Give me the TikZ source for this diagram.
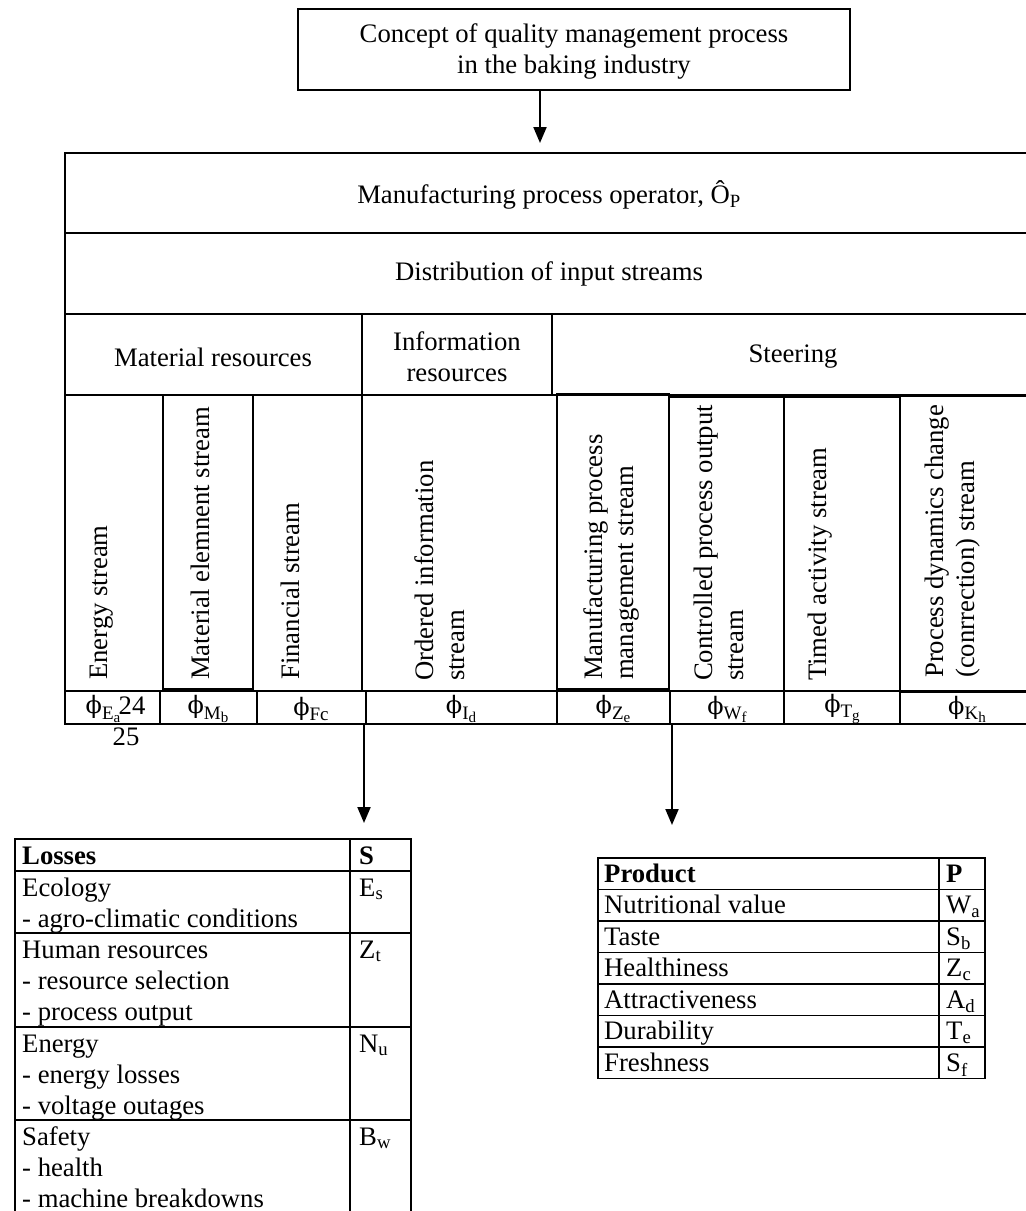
\documentclass[tikz,border=0pt]{standalone}
\usepackage{fontspec}
\setmainfont{Liberation Serif}
\newfontfamily\phifont{DejaVu Serif}
\usetikzlibrary{arrows.meta}
\newcommand{\bigfont}{\fontsize{26.7}{31}\selectfont}
\newcommand{\phich}{{\phifont\fontsize{24}{31}\selectfont ϕ}}
\newcommand{\phis}[2]{\phich\raisebox{-0.45ex}{\fontsize{19}{20}\selectfont #1\raisebox{-0.3ex}{\fontsize{15}{16}\selectfont #2}}}
\newcommand{\phisone}[1]{\phich\raisebox{-0.45ex}{\fontsize{19}{20}\selectfont #1}}
\begin{document}
\begin{tikzpicture}[x=1pt,y=-1pt,font=\bigfont,
  cell/.style={draw,line width=1.8pt,anchor=north west,inner sep=0pt,outer sep=0pt},
  txt/.style={inner sep=0pt,outer sep=0pt},
  rot/.style={rotate=90,anchor=west,inner sep=0pt,align=left},
  tt/.style={anchor=north west,inner sep=0pt,align=left},
  ln/.style={line width=1.8pt},
  arr/.style={line width=2pt,-{Triangle[length=16pt,width=13pt]}}]
\useasboundingbox (0,0) rectangle (1026,1211);
% top box
\node[cell,minimum width=552pt,minimum height=81pt] (top) at (298,9) {};
\node[txt,align=center] (toptxt) at (574,51) {Concept of quality management process\\in the baking industry};
% main rows
\node[cell,line width=2.2pt,minimum width=969pt,minimum height=80pt] (op) at (65,153) {};
\node[txt] (optxt) at (549,195) {Manufacturing process operator, Ô\textsubscript{P}};
\node[cell,line width=2.2pt,minimum width=969pt,minimum height=81pt] (dist) at (65,233) {};
\node[txt] (disttxt) at (549,274) {Distribution of input streams};
\node[cell,minimum width=297pt,minimum height=81pt] (mat) at (65,314) {};
\node[txt] (mattxt) at (213,357) {Material resources};
\node[cell,minimum width=190pt,minimum height=81pt] (inf) at (362,314) {};
\node[txt,align=center] (inftxt) at (457,357) {Information\\resources};
\node[cell,minimum width=482pt,minimum height=81pt] (ste) at (552,314) {};
\node[txt] (stetxt) at (793,357) {Steering};
% stream cells
\node[cell,minimum width=98pt,minimum height=296pt] (s1) at (65,395) {};
\node[cell,minimum width=90pt,minimum height=294pt] (s2) at (163,395) {};
\node[cell,minimum width=109pt,minimum height=296pt] (s3) at (253,395) {};
\node[cell,minimum width=195pt,minimum height=296pt] (s4) at (362,395) {};
\node[cell,minimum width=112pt,minimum height=295pt] (s5) at (557,394) {};
\node[cell,minimum width=115pt,minimum height=294pt] (s6) at (669,397) {};
\node[cell,minimum width=116pt,minimum height=294pt] (s7) at (784,397) {};
\node[cell,minimum width=134pt,minimum height=296pt] (s8) at (900,396) {};
\node[rot] (l1) at (102,680) {Energy stream};
\node[rot] (l2) at (200,680) {Material elemnent stream};
\node[rot] (l3) at (290,680) {Financial stream};
\node[rot] (l4) at (443,681) {\strut Ordered information\\\strut stream};
\node[rot] (l5) at (612,680) {\strut Manufacturing process\\\strut management stream};
\node[rot] (l6) at (722,681) {\strut Controlled process output\\\strut stream};
\node[rot] (l7) at (820,681) {Timed activity stream};
\node[rot] (l8) at (953,678) {\strut Process dynamics change\\\strut (conrrection) stream};
% phi row
\node[cell,minimum width=95pt,minimum height=33pt] (p1) at (65,691) {};
\node[cell,minimum width=97pt,minimum height=33pt] (p2) at (160,691) {};
\node[cell,minimum width=109pt,minimum height=33pt] (p3) at (257,691) {};
\node[cell,minimum width=191pt,minimum height=33pt] (p4) at (366,691) {};
\node[cell,minimum width=113pt,minimum height=33pt] (p5) at (557,691) {};
\node[cell,minimum width=114pt,minimum height=33pt] (p6) at (670,691) {};
\node[cell,minimum width=116pt,minimum height=33pt] (p7) at (784,691) {};
\node[cell,minimum width=134pt,minimum height=33pt] (p8) at (900,691) {};
\node[txt] (f1) at (103,709) {\phis{E}{a}};
\node[txt] (n24) at (132,706) {24};
\node[txt] (n25) at (126,737) {25};
\node[txt] (f2) at (208,709) {\phis{M}{b}};
\node[txt] (f3) at (311,709) {\phisone{Fc}};
\node[txt] (f4) at (461,709) {\phis{I}{d}};
\node[txt] (f5) at (613,709) {\phis{Z}{e}};
\node[txt] (f6) at (727,709) {\phis{W}{f}};
\node[txt] (f7) at (842,709) {\phis{T}{g}};
\node[txt] (f8) at (967,709) {\phis{K}{h}};
% losses table
\node[cell,minimum width=396pt,minimum height=400pt] (loss) at (15,839) {};
\draw[ln] (loss.north west |- 0,871) -- (loss.north east |- 0,871);
\draw[ln] (loss.north west |- 0,933) -- (loss.north east |- 0,933);
\draw[ln] (loss.north west |- 0,1027) -- (loss.north east |- 0,1027);
\draw[ln] (loss.north west |- 0,1120) -- (loss.north east |- 0,1120);
\draw[ln] (350,839) -- (350,1239);
\node[tt] (lh) at (22,842.3) {\strut\textbf{Losses}};
\node[tt] (lhs) at (359,842.3) {\strut\textbf{S}};
\node[tt] (lr1) at (22,874.3) {\strut Ecology\\\strut - agro-climatic conditions};
\node[tt] (ls1) at (359,874.3) {\strut E\textsubscript{s}};
\node[tt] (lr2) at (22,936.3) {\strut Human resources\\\strut - resource selection\\\strut - process output};
\node[tt] (ls2) at (359,936.3) {\strut Z\textsubscript{t}};
\node[tt] (lr3) at (22,1030.3) {\strut Energy\\\strut - energy losses\\\strut - voltage outages};
\node[tt] (ls3) at (359,1030.3) {\strut N\textsubscript{u}};
\node[tt] (lr4) at (22,1123.3) {\strut Safety\\\strut - health\\\strut - machine breakdowns};
\node[tt] (ls4) at (359,1123.3) {\strut B\textsubscript{w}};
% product table
\node[cell,minimum width=387pt,minimum height=220.5pt] (prod) at (598,858) {};
\foreach \k in {1,...,6} {\draw[ln] (598,858+31.5*\k) -- (985,858+31.5*\k);}
\draw[ln] (939,858) -- (939,1078.5);
\node[tt] (ph) at (604,860.5) {\strut\textbf{Product}};
\node[tt] (pp) at (946,860.5) {\strut\textbf{P}};
\node[tt] (pr1) at (604,892) {\strut Nutritional value};
\node[tt] (pv1) at (946,892) {\strut W\textsubscript{a}};
\node[tt] (pr2) at (604,923.5) {\strut Taste};
\node[tt] (pv2) at (946,923.5) {\strut S\textsubscript{b}};
\node[tt] (pr3) at (604,955) {\strut Healthiness};
\node[tt] (pv3) at (946,955) {\strut Z\textsubscript{c}};
\node[tt] (pr4) at (604,986.5) {\strut Attractiveness};
\node[tt] (pv4) at (946,986.5) {\strut A\textsubscript{d}};
\node[tt] (pr5) at (604,1018) {\strut Durability};
\node[tt] (pv5) at (946,1018) {\strut T\textsubscript{e}};
\node[tt] (pr6) at (604,1049.5) {\strut Freshness};
\node[tt] (pv6) at (946,1049.5) {\strut S\textsubscript{f}};
% arrows
\draw[arr,shorten >=10pt] ([xshift=-34pt]top.south) -- ([xshift=-34pt]top.south |- op.north);
\draw[arr,shorten >=16pt] ([xshift=-2pt]p4.south west) -- ([xshift=-2pt]p4.south west |- loss.north);
\draw[arr,shorten >=33pt] ([xshift=2pt]p6.south west) -- ([xshift=2pt]p6.south west |- prod.north);
\end{tikzpicture}
\end{document}
